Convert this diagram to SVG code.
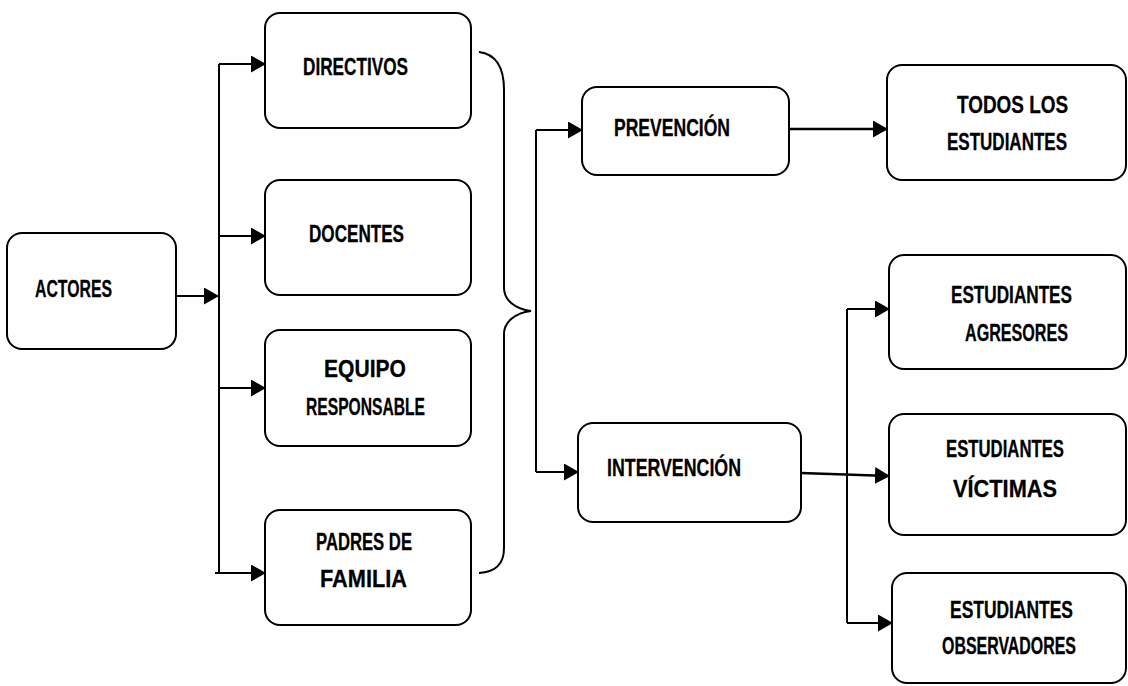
<svg xmlns="http://www.w3.org/2000/svg" width="1128" height="686" viewBox="0 0 1128 686">
<style>
.box{fill:#fff;stroke:#000;stroke-width:2}
.t{font-family:"Liberation Sans",Arial,sans-serif;font-weight:bold;font-size:24px;fill:#000;stroke:#000;stroke-width:0.3}
.c{stroke:#000;stroke-width:2;fill:none}
.w{stroke-width:2.6}
.a{marker-end:url(#ah)}
</style>
<defs>
<marker id="ah" markerUnits="userSpaceOnUse" markerWidth="15" markerHeight="17" refX="14" refY="8.5" orient="auto">
<path d="M0,0 L15,8.5 L0,17 z" fill="#000"/>
</marker>
</defs>
<rect width="1128" height="686" fill="#fff"/>
<g id="connectors">
<path class="c a" d="M171,296 H218"/>
<path class="c" d="M219,64 V573"/>
<path class="c a" d="M219,64 H265"/>
<path class="c a" d="M219,236 H265"/>
<path class="c a" d="M219,388 H265"/>
<path class="c a" d="M215,573 H265"/>
<path class="c" d="M479,52 C495,54 504,65 504,90 V288 C504,300 515,309 531,311 C515,313 504,322 504,334 V548 C504,565 495,572 479,573"/>
<path class="c" d="M536,130 V472"/>
<path class="c a" d="M536,130 H582"/>
<path class="c a" d="M536,472 H578"/>
<path class="c w a" d="M789,129 H887"/>
<path class="c w a" d="M801,473 L889,476"/>
<path class="c" d="M847,309 V623"/>
<path class="c a" d="M847,309 H889"/>
<path class="c a" d="M847,623 H892"/>
</g>
<g id="actores"><rect class="box" x="7" y="233" width="169" height="116" rx="15"/><text class="t" x="35" y="297" textLength="77" lengthAdjust="spacingAndGlyphs">ACTORES</text></g>
<g id="directivos"><rect class="box" x="265" y="13" width="206" height="115" rx="15"/><text class="t" x="303" y="75" textLength="105" lengthAdjust="spacingAndGlyphs">DIRECTIVOS</text></g>
<g id="docentes"><rect class="box" x="265" y="180" width="206" height="115" rx="15"/><text class="t" x="309" y="242" textLength="95" lengthAdjust="spacingAndGlyphs">DOCENTES</text></g>
<g id="equipo"><rect class="box" x="265" y="330" width="206" height="116" rx="15"/><text class="t" x="324" y="377" textLength="82" lengthAdjust="spacingAndGlyphs">EQUIPO</text><text class="t" x="306" y="415" textLength="119" lengthAdjust="spacingAndGlyphs">RESPONSABLE</text></g>
<g id="padres"><rect class="box" x="265" y="510" width="206" height="115" rx="15"/><text class="t" x="316" y="550" textLength="96" lengthAdjust="spacingAndGlyphs">PADRES DE</text><text class="t" x="320" y="587" textLength="87" lengthAdjust="spacingAndGlyphs">FAMILIA</text></g>
<g id="prevencion"><rect class="box" x="582" y="87" width="207" height="88" rx="15"/><text class="t" x="614" y="136" textLength="116" lengthAdjust="spacingAndGlyphs">PREVENCIÓN</text></g>
<g id="todos"><rect class="box" x="887" y="65" width="239" height="115" rx="15"/><text class="t" x="957" y="113" textLength="111" lengthAdjust="spacingAndGlyphs">TODOS LOS</text><text class="t" x="947" y="150" textLength="120" lengthAdjust="spacingAndGlyphs">ESTUDIANTES</text></g>
<g id="intervencion"><rect class="box" x="578" y="423" width="223" height="99" rx="15"/><text class="t" x="607" y="476" textLength="134" lengthAdjust="spacingAndGlyphs">INTERVENCIÓN</text></g>
<g id="agresores"><rect class="box" x="889" y="255" width="237" height="114" rx="15"/><text class="t" x="951" y="303" textLength="121" lengthAdjust="spacingAndGlyphs">ESTUDIANTES</text><text class="t" x="965" y="341" textLength="103" lengthAdjust="spacingAndGlyphs">AGRESORES</text></g>
<g id="victimas"><rect class="box" x="889" y="414" width="237" height="121" rx="15"/><text class="t" x="946" y="457" textLength="118" lengthAdjust="spacingAndGlyphs">ESTUDIANTES</text><text class="t" x="953" y="497" textLength="104" lengthAdjust="spacingAndGlyphs">VÍCTIMAS</text></g>
<g id="observadores"><rect class="box" x="892" y="573" width="234" height="110" rx="15"/><text class="t" x="950" y="618" textLength="123" lengthAdjust="spacingAndGlyphs">ESTUDIANTES</text><text class="t" transform="translate(942,654) scale(1,1.14)" x="0" y="0" style="font-size:21px" textLength="134" lengthAdjust="spacingAndGlyphs">OBSERVADORES</text></g>
</svg>
